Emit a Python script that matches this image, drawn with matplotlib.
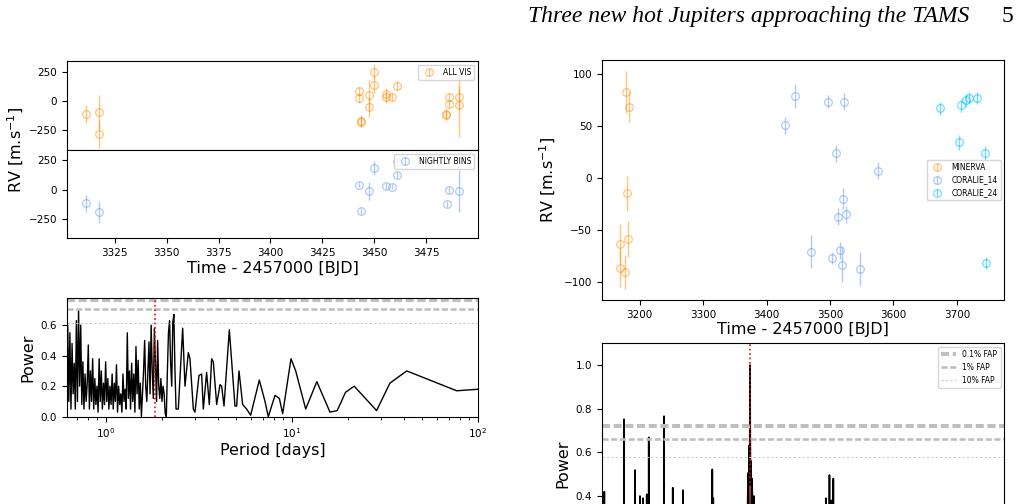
import matplotlib
matplotlib.use("Agg")
import matplotlib.pyplot as plt

# ---- RV data, left target ----
t_vis = [3311.3, 3317.3, 3317.3, 3442.8, 3442.8, 3443.6, 3443.6, 3447.6, 3447.6,
         3449.7, 3449.7, 3455.6, 3455.6, 3458.7, 3460.9, 3484.8, 3484.8, 3485.8,
         3485.8, 3490.7, 3490.7]
rv_vis = [-112, -95, -282, 80, 20, -172, -181, 46, -54, 250, 138, 58, 29, 34, 129,
          -109, -121, 32, -28, 29, -40]
err_vis = [75, 147, 120, 35, 35, 50, 45, 134, 85, 65, 70, 55, 48, 35, 40, 30, 50,
           35, 35, 100, 270]

t_bin = [3311.3, 3317.3, 3442.8, 3443.75, 3447.6, 3449.9, 3455.8, 3458.8, 3460.8,
         3460.8, 3485.0, 3486.0, 3490.8]
rv_bin = [-118, -196, 43, -184, -11, 184, 34, 26, 241, 124, -124, -6, -15]
err_bin = [75, 95, 25, 25, 75, 60, 25, 20, 25, 25, 25, 25, 180]

# ---- periodogram, left target ----
per_left = [0.6145, 0.6228, 0.6312, 0.6397, 0.6483, 0.6571, 0.6660, 0.6750, 0.6841,
            0.6933, 0.7026, 0.7121, 0.7217, 0.7315, 0.7414, 0.7514, 0.7615, 0.7718,
            0.7822, 0.7928, 0.8035, 0.8143, 0.8253, 0.8365, 0.8478, 0.8592, 0.8708,
            0.8826, 0.8945, 0.9066, 0.9188, 0.9312, 0.9438, 0.9565, 0.9694, 0.9825,
            0.9958, 1.0092, 1.0229, 1.0367, 1.0507, 1.0649, 1.0792, 1.0938, 1.1086,
            1.1235, 1.1387, 1.1541, 1.1697, 1.1855, 1.2015, 1.2177, 1.2341, 1.2508,
            1.2677, 1.2848, 1.3021, 1.3197, 1.3375, 1.3556, 1.3739, 1.3924, 1.4112,
            1.4303, 1.4496, 1.4692, 1.4890, 1.5091, 1.5295, 1.5501, 1.5711, 1.5923,
            1.6138, 1.6356, 1.6576, 1.6800, 1.7027, 1.7257, 1.7490, 1.7726, 1.7965,
            1.8208, 1.8454, 1.8703, 1.8955, 1.9211, 1.9470, 1.9733, 2.0000, 2.0270,
            2.0543, 2.0821, 2.1102, 2.1387, 2.1675, 2.1968, 2.2264, 2.2565, 2.2869,
            2.3178, 2.3491, 2.3808,
            2.448, 2.584, 2.659, 2.771, 2.829, 2.948, 3.009, 3.162, 3.268, 3.336,
            3.476, 3.593, 3.700, 3.776, 3.936, 4.102, 4.187, 4.310, 4.604, 4.937,
            5.041, 5.190, 5.430, 5.705, 5.994, 6.673, 7.16, 7.46, 8.10, 8.55, 8.91,
            9.88, 10.47, 11.85, 13.6, 16.0, 17.5, 19.4, 21.6, 28.5, 33.6, 41.4,
            76.8, 100.0]
pow_left = [0.05, 0.60, 0.10, 0.55, 0.05, 0.48, 0.15, 0.35, 0.05, 0.63, 0.10, 0.70,
            0.20, 0.60, 0.08, 0.36, 0.05, 0.28, 0.10, 0.22, 0.47, 0.05, 0.30, 0.10,
            0.38, 0.05, 0.25, 0.08, 0.20, 0.03, 0.38, 0.10, 0.30, 0.05, 0.22, 0.08,
            0.36, 0.10, 0.25, 0.05, 0.20, 0.08, 0.28, 0.05, 0.22, 0.10, 0.34, 0.03,
            0.20, 0.08, 0.15, 0.03, 0.28, 0.10, 0.18, 0.05, 0.55, 0.12, 0.30, 0.05,
            0.35, 0.10, 0.28, 0.03, 0.46, 0.15, 0.37, 0.05, 0.22, 0.00, 0.15, 0.30,
            0.50, 0.20, 0.10, 0.30, 0.49, 0.15, 0.60, 0.30, 0.12, 0.58, 0.35, 0.10,
            0.50, 0.20, 0.12, 0.25, 0.10, 0.20, 0.15, 0.02, 0.00, 0.30, 0.55, 0.63,
            0.35, 0.20, 0.62, 0.67, 0.30, 0.05,
            0.05, 0.58, 0.20, 0.42, 0.38, 0.05, 0.03, 0.27, 0.28, 0.05,
            0.29, 0.08, 0.38, 0.36, 0.08, 0.21, 0.20, 0.07, 0.57, 0.07,
            0.07, 0.30, 0.08, 0.05, 0.01, 0.24, 0.10, 0.00, 0.14, 0.12, 0.02,
            0.38, 0.30, 0.05, 0.23, 0.03, 0.04, 0.16, 0.20, 0.04, 0.22, 0.30,
            0.17, 0.18]
fap_left = [0.763, 0.706, 0.615]
p_left = 1.835

# ---- RV data, right target ----
t_min = [3178.7, 3183.0, 3179.8, 3168.8, 3181.4, 3168.8, 3176.7]
rv_min = [83, 68.6, -14.7, -62.8, -58.7, -86.3, -90]
err_min = [20, 15, 16.7, 19, 17.5, 18, 16]

t_c14 = [3444.4, 3429.1, 3497.4, 3522.0, 3510.0, 3575.0, 3520.5, 3512.0, 3524.7,
         3470.6, 3503.1, 3515.7, 3519.4, 3547.7]
rv_c14 = [78.5, 50.6, 73.4, 73.4, 23.7, 7.1, -19.6, -36.9, -34.6, -70.5, -76.6,
          -69.2, -83.0, -87.2]
err_c14 = [11.5, 8, 6, 8, 8, 8, 10, 8, 8, 15.7, 6, 8, 17, 16.5]

t_c24 = [3674.3, 3706.3, 3714.2, 3719.4, 3731.5, 3703.6, 3744.6, 3745.7]
rv_c24 = [67, 69.9, 74.7, 77.2, 76.9, 34.3, 24, -81.7]
err_c24 = [6, 6, 6, 6, 6, 7, 7, 6]

# ---- periodogram, right target (only the part above 0.36 is visible) ----
per_right = [0.625, 0.636, 0.638, 0.640, 0.70, 0.816, 0.818, 0.820, 0.88, 0.937,
             0.940, 0.943, 0.998, 1.001, 1.004, 1.037, 1.040, 1.043, 1.087, 1.090,
             1.093, 1.115, 1.118, 1.121, 1.25, 1.352, 1.356, 1.360, 1.510, 1.514,
             1.518, 1.720, 1.724, 1.728, 2.10, 2.490, 2.496, 2.505, 2.527, 2.535,
             3.20, 3.88, 3.92, 3.95, 3.97, 4.00, 4.02, 4.045, 4.07, 4.095, 4.12,
             4.17, 4.23, 4.28, 7.0, 10.47, 10.50, 10.55, 10.94, 10.97, 11.0, 11.16,
             11.19, 11.22, 11.49, 11.52, 11.56, 30.0, 100.0]
pow_right = [0.10, 0.10, 0.42, 0.10, 0.10, 0.10, 0.752, 0.10, 0.10, 0.10,
             0.519, 0.10, 0.10, 0.40, 0.10, 0.10, 0.39, 0.10, 0.10, 0.408,
             0.10, 0.10, 0.669, 0.10, 0.10, 0.10, 0.766, 0.10, 0.10, 0.438,
             0.10, 0.10, 0.427, 0.10, 0.10, 0.10, 0.522, 0.10, 0.39, 0.10,
             0.10, 0.20, 0.505, 0.30, 0.63, 0.50, 1.00, 0.45, 0.56, 0.35, 0.48,
             0.30, 0.40, 0.15, 0.10, 0.10, 0.39, 0.10, 0.10, 0.496, 0.10, 0.10,
             0.38, 0.10, 0.10, 0.48, 0.10, 0.10, 0.10]
fap_right = [0.72, 0.66, 0.58]
p_right = 4.02

fap_labels = ["0.1% FAP", "1% FAP", "10% FAP"]

c_orange = (1.0, 0.55, 0.0, 0.5)
c_blue = (0.39, 0.58, 0.93, 0.5)
c_cyan = (0.0, 0.75, 1.0, 0.55)

fap_styles = [dict(color="0.75", lw=2.9, ls=(0, (2.0, 0.9))),
              dict(color="0.75", lw=1.9, ls=(0, (2.3, 1.0))),
              dict(color="0.80", lw=0.8, ls=(0, (2, 2)))]

tick_fs = 7.5
label_fs = 11.5

fig = plt.figure(figsize=(10.24, 5.04), dpi=100)


def rv_errorbar(ax, t, rv, err, color, label):
    ax.errorbar(t, rv, yerr=err, fmt="o", mfc="none", mec=color, ecolor=color,
                color=color, ms=5.5, mew=0.9, elinewidth=1, label=label)


# left RV panels
ax1 = fig.add_axes([0.0654, 0.7024, 0.4014, 0.1766])
ax2 = fig.add_axes([0.0654, 0.5268, 0.4014, 0.1756], sharex=ax1)
rv_errorbar(ax1, t_vis, rv_vis, err_vis, c_orange, "ALL VIS")
rv_errorbar(ax2, t_bin, rv_bin, err_bin, c_blue, "NIGHTLY BINS")
for ax in (ax1, ax2):
    ax.set_ylim(-420, 340)
    ax.set_yticks([-250, 0, 250])
    ax.tick_params(labelsize=tick_fs)
    ax.legend(loc="upper right", fontsize=5.5)
ax1.set_xlim(3302, 3500)
ax1.set_xticks([3325, 3350, 3375, 3400, 3425, 3450, 3475])
ax1.tick_params(labelbottom=False)
ax2.set_xlabel("Time - 2457000 [BJD]", fontsize=label_fs, labelpad=2)
fig.text(0.016, 1 - 150 / 504, "RV [m.s$^{-1}$]", rotation=90, fontsize=label_fs,
         ha="center", va="center")

# left periodogram
ax3 = fig.add_axes([0.0654, 0.1732, 0.4014, 0.2349])
ax3.plot(per_left, pow_left, color="black", lw=1)
for val, st, lab in zip(fap_left, fap_styles, fap_labels):
    ax3.axhline(val, label=lab, **st)
ax3.axvline(p_left, color="red", ls=":", lw=1.2)
ax3.set_xscale("log")
ax3.set_xlim(0.617, 100)
ax3.set_ylim(0, 0.776)
ax3.set_yticks([0.0, 0.2, 0.4, 0.6])
ax3.tick_params(labelsize=tick_fs)
ax3.set_xlabel("Period [days]", fontsize=label_fs, labelpad=2)
ax3.set_ylabel("Power", fontsize=label_fs)

# right RV panel
ax4 = fig.add_axes([0.5876, 0.4048, 0.3932, 0.4762])
rv_errorbar(ax4, t_min, rv_min, err_min, c_orange, "MINERVA")
rv_errorbar(ax4, t_c14, rv_c14, err_c14, c_blue, "CORALIE_14")
rv_errorbar(ax4, t_c24, rv_c24, err_c24, c_cyan, "CORALIE_24")
ax4.set_xlim(3140, 3775)
ax4.set_ylim(-117, 113.5)
ax4.set_xticks([3200, 3300, 3400, 3500, 3600, 3700])
ax4.set_yticks([-100, -50, 0, 50, 100])
ax4.tick_params(labelsize=tick_fs)
ax4.legend(loc="center right", fontsize=5.5)
ax4.set_xlabel("Time - 2457000 [BJD]", fontsize=label_fs, labelpad=2)
ax4.set_ylabel("RV [m.s$^{-1}$]", fontsize=label_fs)

# right periodogram (runs off the bottom of the page)
ax5 = fig.add_axes([0.5876, -0.1573, 0.3932, 0.4762])
ax5.plot(per_right, pow_right, color="black", lw=1.2)
for val, st, lab in zip(fap_right, fap_styles, fap_labels):
    ax5.axhline(val, label=lab, **st)
ax5.axvline(p_right, color="red", ls=":", lw=1.2)
ax5.set_xscale("log")
ax5.set_xlim(0.617, 100)
ax5.set_ylim(0, 1.1)
ax5.set_yticks([0.4, 0.6, 0.8, 1.0])
ax5.tick_params(labelsize=tick_fs, labelbottom=False)
ax5.set_ylabel("Power", fontsize=label_fs)
ax5.legend(loc="upper right", fontsize=5.5)

# page header
fig.text(0.947, 0.968, "Three new hot Jupiters approaching the TAMS",
         family="Liberation Serif", style="italic", fontsize=17,
         ha="right", va="center")
fig.text(0.990, 0.968, "5", family="Liberation Serif", fontsize=17,
         ha="right", va="center")

fig.savefig("out.png", dpi=100)
